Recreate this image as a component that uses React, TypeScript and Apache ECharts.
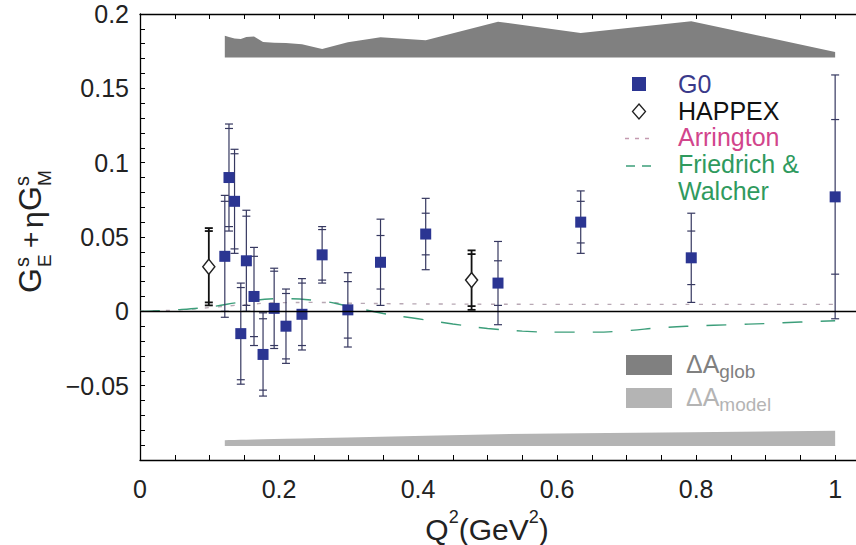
import React, { useEffect, useRef } from "react";
import * as echarts from "echarts";

// ---------------- data ----------------
const g0Q2 = [0.122, 0.128, 0.136, 0.145, 0.153, 0.164, 0.177, 0.193, 0.21, 0.233, 0.262, 0.299, 0.346, 0.411, 0.515, 0.634, 0.793, 1.0];
const g0Val = [0.037, 0.09, 0.074, -0.015, 0.034, 0.01, -0.029, 0.002, -0.01, -0.002, 0.038, 0.001, 0.033, 0.052, 0.019, 0.06, 0.036, 0.077];
const g0TotErr = [0.041, 0.036, 0.035, 0.034, 0.034, 0.033, 0.028, 0.027, 0.025, 0.024, 0.019, 0.025, 0.029, 0.024, 0.028, 0.021, 0.03, 0.082];
const g0StatErr = [0.037, 0.033, 0.032, 0.031, 0.03, 0.027, 0.024, 0.025, 0.022, 0.021, 0.017, 0.019, 0.018, 0.014, 0.015, 0.014, 0.018, 0.052];

const happexQ2 = [0.099, 0.477];
const happexVal = [0.03, 0.021];
const happexTotErr = [0.026, 0.02];
const happexStatErr = [0.024, 0.0175];

const globBase = 0.1707;
const globTop = [0.1853, 0.1845, 0.1836, 0.1831, 0.1845, 0.1849, 0.1812, 0.1806, 0.1805, 0.1797, 0.1764, 0.181, 0.1843, 0.1824, 0.1948, 0.1872, 0.1951, 0.1745];
const modelBase = -0.0905;
const modelTop = [-0.0867, -0.0866, -0.0865, -0.0864, -0.0863, -0.0862, -0.0861, -0.0859, -0.0857, -0.0855, -0.0852, -0.0849, -0.0844, -0.0837, -0.0826, -0.082, -0.0814, -0.0804];

const arringtonQ2 = [0, 0.05, 0.1, 0.15, 0.2, 0.25, 0.3, 0.4, 0.5, 0.6, 0.7, 0.8, 0.9, 1.0];
const arringtonVal = [0, 0.0008, 0.0025, 0.0045, 0.0058, 0.006, 0.0055, 0.005, 0.0048, 0.0047, 0.0047, 0.0047, 0.0047, 0.0047];

const fwQ2 = [0, 0.05, 0.1, 0.15, 0.2, 0.25, 0.3, 0.35, 0.4, 0.45, 0.5, 0.55, 0.6, 0.65, 0.7, 0.75, 0.8, 0.85, 0.9, 0.95, 1.0];
const fwVal = [0, 0.001, 0.003, 0.0065, 0.0085, 0.0075, 0.0035, -0.0015, -0.005, -0.0085, -0.0115, -0.0133, -0.014, -0.014, -0.013, -0.011, -0.0098, -0.009, -0.0082, -0.0072, -0.0063];

const xTickLabels = ["0", "0.2", "0.4", "0.6", "0.8", "1"];
const yTickLabels = ["−0.05", "0", "0.05", "0.1", "0.15", "0.2"];

const FONT = "'Liberation Sans', Arial, Helvetica, sans-serif";

function errRender(color: string, lw: number) {
  return (_params: any, api: any) => {
    const x = api.value(0);
    const y = api.value(1);
    const tot = api.value(2);
    const st = api.value(3);
    const pt = api.coord([x, y + tot]);
    const pb = api.coord([x, y - tot]);
    const ps = api.coord([x, y + st]);
    const pbs = api.coord([x, y - st]);
    const hw = 4;
    const cap = (p: number[]) => ({
      type: "line",
      shape: { x1: p[0] - hw, y1: p[1], x2: p[0] + hw, y2: p[1] },
      style: { stroke: color, lineWidth: lw },
    });
    return {
      type: "group",
      children: [
        { type: "line", shape: { x1: pt[0], y1: pt[1], x2: pb[0], y2: pb[1] }, style: { stroke: color, lineWidth: lw } },
        cap(pt),
        cap(pb),
        cap(ps),
        cap(pbs),
      ],
    };
  };
}

function fmtX(v: number) {
  const k = Math.round(v / 0.2);
  if (Math.abs(v - k * 0.2) < 1e-6 && k >= 0 && k < xTickLabels.length) return xTickLabels[k];
  return "";
}
function fmtY(v: number) {
  const k = Math.round(v / 0.05);
  if (Math.abs(v - k * 0.05) < 1e-6 && k >= -1 && k <= 4) return yTickLabels[k + 1];
  return "";
}

export default function App() {
  const ref = useRef<HTMLDivElement>(null);
  useEffect(() => {
    const chart = echarts.init(ref.current!, null, { renderer: "svg" });
    const axisCommon = {
      type: "value" as const,
      min: 0,
      max: 1.03,
      interval: 0.05,
      splitLine: { show: false },
      axisLine: { show: true, onZero: false, lineStyle: { color: "#000", width: 1.3 } },
      axisTick: { show: true, inside: true, length: 5, lineStyle: { color: "#000", width: 1 } },
    };
    const option: any = {
      animation: false,
      backgroundColor: "#fff",
      grid: { left: 140, top: 14, width: 717, height: 446 },
      xAxis: [
        {
          ...axisCommon,
          position: "bottom",
          axisLabel: { formatter: fmtX, fontSize: 25, color: "#222", fontFamily: FONT, margin: 16, showMaxLabel: false },
        },
        { ...axisCommon, position: "top", axisLabel: { show: false } },
      ],
      yAxis: [
        {
          type: "value",
          min: -0.1,
          max: 0.2,
          interval: 0.01,
          splitLine: { show: false },
          axisLine: { show: true, onZero: false, lineStyle: { color: "#000", width: 1.3 } },
          axisTick: { show: true, inside: true, length: 5, lineStyle: { color: "#000", width: 1 } },
          axisLabel: { formatter: fmtY, fontSize: 25, color: "#222", fontFamily: FONT, margin: 11 },
        },
      ],
      series: [
        {
          name: "bands",
          type: "custom",
          z: 1,
          data: [[0, 0]],
          renderItem: (_p: any, api: any) => {
            const gTop = g0Q2.map((q, i) => api.coord([q, globTop[i]]));
            const gBot = g0Q2.slice().reverse().map((q) => api.coord([q, globBase]));
            const mTop = g0Q2.map((q, i) => api.coord([q, modelTop[i]]));
            const mBot = g0Q2.slice().reverse().map((q) => api.coord([q, modelBase]));
            return {
              type: "group",
              children: [
                { type: "polygon", shape: { points: [...gTop, ...gBot] }, style: { fill: "#808080" } },
                { type: "polygon", shape: { points: [...mTop, ...mBot] }, style: { fill: "#b4b4b4" } },
              ],
            };
          },
        },
        {
          name: "Arrington",
          type: "line",
          z: 2,
          smooth: true,
          showSymbol: false,
          data: arringtonQ2.map((q, i) => [q, arringtonVal[i]]),
          lineStyle: { color: "#b8a8b4", width: 1.4, type: [4, 9] },
          markLine: {
            silent: true,
            symbol: ["none", "none"],
            label: { show: false },
            lineStyle: { color: "#000", width: 1.3, type: "solid" },
            data: [{ yAxis: 0 }],
          },
        },
        {
          name: "Friedrich & Walcher",
          type: "line",
          z: 2,
          smooth: true,
          showSymbol: false,
          data: fwQ2.map((q, i) => [q, fwVal[i]]),
          lineStyle: { color: "#3c9e7a", width: 1.4, type: [20, 18] },
        },
        {
          name: "G0 err",
          type: "custom",
          z: 3,
          data: g0Q2.map((q, i) => [q, g0Val[i], g0TotErr[i], g0StatErr[i]]),
          renderItem: errRender("#363860", 1.2),
        },
        {
          name: "HAPPEX err",
          type: "custom",
          z: 3,
          data: happexQ2.map((q, i) => [q, happexVal[i], happexTotErr[i], happexStatErr[i]]),
          renderItem: errRender("#111", 1.8),
        },
        {
          name: "G0",
          type: "scatter",
          z: 4,
          symbol: "rect",
          symbolSize: 11,
          itemStyle: { color: "#2b3592", opacity: 1 },
          data: g0Q2.map((q, i) => [q, g0Val[i]]),
        },
        {
          name: "HAPPEX",
          type: "scatter",
          z: 4,
          symbol: "diamond",
          symbolSize: [12, 15],
          itemStyle: { color: "#fff", borderColor: "#222", borderWidth: 1.5, opacity: 1 },
          data: happexQ2.map((q, i) => [q, happexVal[i]]),
        },
      ],
      graphic: [
        // legend
        { type: "rect", shape: { x: 632, y: 77, width: 14, height: 14 }, style: { fill: "#2b3592" } },
        { type: "text", x: 678, y: 84, style: { text: "G0", font: `25px ${FONT}`, fill: "#3a3a8a", textVerticalAlign: "middle" } },
        { type: "polygon", shape: { points: [[639, 104], [645.5, 111.5], [639, 119], [632.5, 111.5]] }, style: { fill: "#fff", stroke: "#222", lineWidth: 1.3 } },
        { type: "text", x: 678, y: 111, style: { text: "HAPPEX", font: `25px ${FONT}`, fill: "#111", textVerticalAlign: "middle" } },
        { type: "line", shape: { x1: 625, y1: 138.5, x2: 652, y2: 138.5 }, style: { stroke: "#c49ab0", lineWidth: 1.3, lineDash: [4, 6] } },
        { type: "text", x: 678, y: 137, style: { text: "Arrington", font: `25px ${FONT}`, fill: "#d2458c", textVerticalAlign: "middle" } },
        { type: "line", shape: { x1: 626, y1: 166, x2: 651, y2: 166 }, style: { stroke: "#3c9e7a", lineWidth: 1.3, lineDash: [9, 7] } },
        { type: "text", x: 678, y: 164, style: { text: "Friedrich &", font: `25px ${FONT}`, fill: "#2f9a5e", textVerticalAlign: "middle" } },
        { type: "text", x: 678, y: 191, style: { text: "Walcher", font: `25px ${FONT}`, fill: "#2f9a5e", textVerticalAlign: "middle" } },
        // band legend
        { type: "rect", shape: { x: 626, y: 355, width: 46, height: 20 }, style: { fill: "#808080" } },
        {
          type: "text",
          x: 686,
          y: 366,
          style: {
            text: "{a|ΔA}{s|glob}",
            font: `25px ${FONT}`,
            fill: "#808080",
            textVerticalAlign: "middle",
            rich: {
              a: { fontSize: 25, fontFamily: FONT, fill: "#808080", lineHeight: 30, verticalAlign: "top" },
              s: { fontSize: 19, fontFamily: FONT, fill: "#808080", lineHeight: 30, verticalAlign: "bottom" },
            },
          },
        },
        { type: "rect", shape: { x: 626, y: 388, width: 46, height: 20 }, style: { fill: "#b4b4b4" } },
        {
          type: "text",
          x: 686,
          y: 399,
          style: {
            text: "{a|ΔA}{s|model}",
            font: `25px ${FONT}`,
            fill: "#b4b4b4",
            textVerticalAlign: "middle",
            rich: {
              a: { fontSize: 25, fontFamily: FONT, fill: "#b4b4b4", lineHeight: 30, verticalAlign: "top" },
              s: { fontSize: 19, fontFamily: FONT, fill: "#b4b4b4", lineHeight: 30, verticalAlign: "bottom" },
            },
          },
        },
        // x axis name
        {
          type: "text",
          x: 487,
          y: 526,
          style: {
            text: "{b|Q}{s|2}{b|(GeV}{s|2}{b|)}",
            textAlign: "center",
            textVerticalAlign: "middle",
            fill: "#222",
            font: `30px ${FONT}`,
            rich: {
              b: { fontSize: 30, fontFamily: FONT, fill: "#222", lineHeight: 36, verticalAlign: "bottom" },
              s: { fontSize: 18, fontFamily: FONT, fill: "#222", lineHeight: 36, verticalAlign: "top" },
            },
          },
        },
        // y axis name (rotated)
        {
          type: "group",
          x: 41,
          y: 293,
          rotation: Math.PI / 2,
          children: [
            { type: "text", x: 0, y: -11, style: { text: "G", font: `32px ${FONT}`, fill: "#222", textVerticalAlign: "middle" } },
            { type: "text", x: 26, y: -19, style: { text: "s", font: `20px ${FONT}`, fill: "#222", textVerticalAlign: "middle" } },
            { type: "text", x: 26, y: 3, style: { text: "E", font: `19px ${FONT}`, fill: "#222", textVerticalAlign: "middle" } },
            { type: "text", x: 45, y: -11, style: { text: "+", font: `28px ${FONT}`, fill: "#222", textVerticalAlign: "middle" } },
            { type: "text", x: 65, y: -9, style: { text: "η", font: `30px ${FONT}`, fill: "#222", textVerticalAlign: "middle" } },
            { type: "text", x: 82, y: -11, style: { text: "G", font: `32px ${FONT}`, fill: "#222", textVerticalAlign: "middle" } },
            { type: "text", x: 107, y: -19, style: { text: "s", font: `20px ${FONT}`, fill: "#222", textVerticalAlign: "middle" } },
            { type: "text", x: 107, y: 3, style: { text: "M", font: `19px ${FONT}`, fill: "#222", textVerticalAlign: "middle" } },
          ],
        },
      ],
    };
    chart.setOption(option);
    return () => chart.dispose();
  }, []);
  return <div ref={ref} style={{ position: "fixed", left: 0, top: 0, width: 856, height: 545 }} />;
}
